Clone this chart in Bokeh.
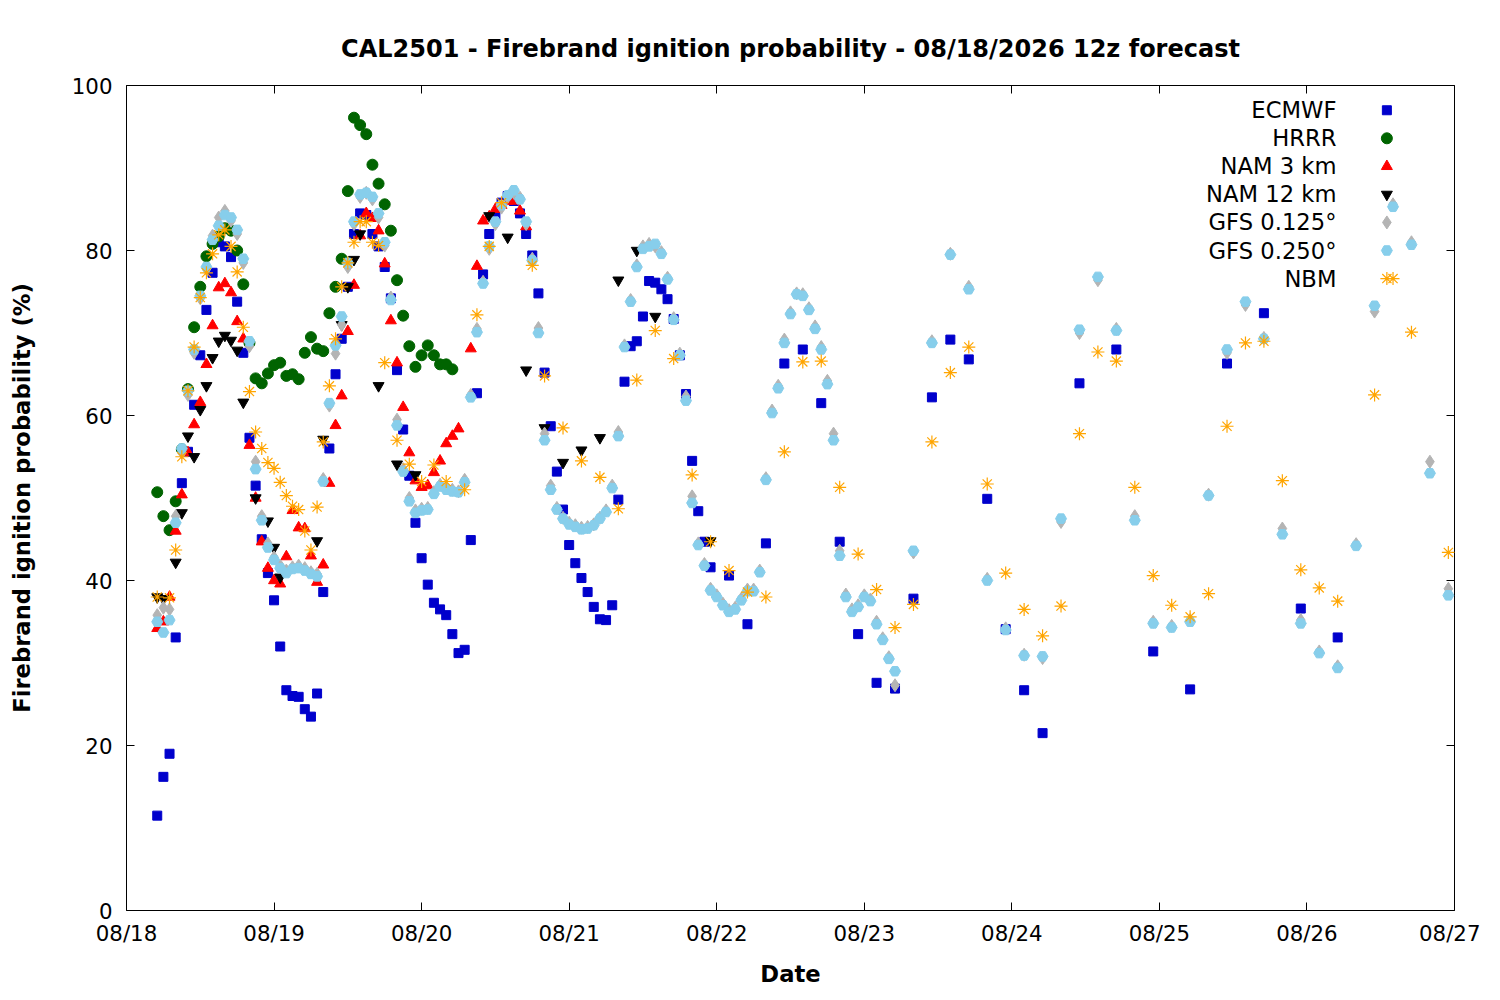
from bokeh.plotting import figure
from bokeh.models import FixedTicker, LinearAxis, Range1d
from bokeh.embed import file_html
from bokeh.resources import INLINE
from bokeh.core.properties import value

day_labels = ["08/18", "08/19", "08/20", "08/21", "08/22", "08/23", "08/24", "08/25", "08/26", "08/27"]

# hours since 08/18 00z
ecmwf_h = list(range(5, 96)) + [98, 101, 104, 107, 110, 113, 116, 119, 122, 125, 128, 131, 134, 137, 140, 143, 146, 149, 155, 161, 167, 173, 179, 185, 191, 197]
ecmwf_v = [11.5, 16.2, 19, 33.1, 51.8, 55.6, 61.3, 67.3, 72.8, 77.3, 81, 80.5, 79.2, 73.8, 67.6, 57.3, 51.5, 45, 40.9, 37.6,
           32, 26.7, 26, 25.9, 24.4, 23.5, 26.3, 38.6, 56, 65, 69.3, 75.6, 82, 84.5, 84.3, 82, 80.5, 78, 74.2, 65.5,
           58.3, 52.7, 47, 42.7, 39.5, 37.3, 36.5, 35.8, 33.5, 31.2, 31.6, 44.9, 62.7, 77.1, 82, 84.2, 85.8, 86.6, 86, 84.5,
           82, 79.4, 74.8, 65.2, 58.7, 53.2, 48.6, 44.3, 42.1, 40.3, 38.6, 36.8, 35.3, 35.2, 37, 49.8, 64.1, 68.4, 69, 72,
           76.3, 76.1, 75.3, 74.1, 71.7, 67.3, 62.6, 54.5, 48.4, 44.7, 41.6,
           40.6, 34.7, 44.5, 66.3, 68, 61.5, 44.7, 33.5, 27.6, 26.9, 37.8, 62.2, 69.2, 66.8, 49.9, 34.1, 26.7, 21.5, 63.9, 68, 31.4, 26.8, 66.3, 72.4, 36.6, 33.1]

hrrr_h = list(range(5, 54))
hrrr_v = [50.7, 47.8, 46.1, 49.6, 55.9, 63.2, 70.7, 75.6, 79.3, 80.8, 81.7, 82.7, 82.4, 80, 75.9, 68.8, 64.5, 63.9, 65.1, 66.1,
          66.4, 64.8, 65, 64.4, 67.6, 69.5, 68.1, 67.8, 72.4, 75.6, 79, 87.2, 96.1, 95.2, 94.1, 90.4, 88.1, 85.6, 82.4, 76.4,
          72.1, 68.4, 65.9, 67.3, 68.5, 67.3, 66.2, 66.2, 65.6]

nam3_h = list(range(5, 55)) + list(range(56, 66))
nam3_v = [34.2, 35, 38, 46, 50.4, 55.5, 58.9, 61.6, 66.2, 70.9, 75.5, 76, 74.9, 71.4, 69.3, 56.4, 50, 44.7, 41.5, 40,
          39.6, 42.9, 48.5, 46.4, 46.3, 43, 39.8, 41.9, 51.8, 58.8, 62.4, 70.2, 75.8, 81.8, 84.5, 83.9, 82.4, 78.4, 71.5, 66.4,
          61, 55.5, 52.1, 51.3, 51.5, 53.1, 54.5, 56.6, 57.5, 58.4,
          68.1, 78.1, 83.6, 84.1, 85, 85.5, 86, 86, 84.8, 82.9]

nam12_h = [5, 6, 8, 9, 10, 11, 12, 13, 14, 15, 16, 17, 18, 19, 21, 23, 24, 25, 31, 32, 35, 36, 37, 38, 41, 44, 47, 59, 62, 65, 68, 71, 74, 77, 80, 83, 86, 95]
nam12_v = [38, 37.8, 42.2, 48.2, 57.5, 55, 60.7, 63.6, 67, 69, 69.7, 69.1, 67.9, 61.6, 50, 47.2, 44, 40.4, 44.8, 57.1,
           71, 75.6, 78.9, 82, 63.6, 54.1, 52.8, 84.2, 81.6, 65.5, 58.5, 54.3, 55.8, 57.3, 76.4, 80, 72, 44.8]

gfs25_h = list(range(5, 126)) + list(range(128, 216, 3))
gfs25_v = [35, 33.7, 35.2, 47, 56, 63, 68, 74.5, 78, 81.3, 83, 84.3, 84, 82.5, 79, 69, 53.5, 47.3, 44, 42.5,
           41.5, 40.9, 41.4, 41.5, 41.2, 40.8, 40.5, 52, 61.5, 68.5, 72, 78.5, 83.5, 86.8, 87, 86.5, 84.5, 81, 74, 58.8,
           53.2, 49.6, 48.2, 48.5, 48.6, 50.5, 51.4, 51, 50.8, 50.7, 51.9, 62.2, 70.1, 76, 80.5, 83.5, 85.5, 86.7, 87.3, 86.2,
           83.5, 78.8, 70, 57, 51, 48.6, 47.5, 46.8, 46.5, 46.2, 46.3, 46.7, 47.5, 48.3, 51.2, 57.5, 68.3, 73.8, 78, 80.2,
           80.5, 80.8, 79.6, 76.5, 71.6, 67.3, 61.8, 49.4, 44.3, 41.8, 38.8, 38, 37, 36.2, 36.5, 37.6, 38.7, 38.7, 41, 52.2,
           60.3, 63.3, 68.8, 72.3, 74.7, 74.5, 72.8, 70.5, 68, 63.8, 57, 43, 38, 36.2, 36.8, 38, 37.5, 34.7, 32.8, 30.5,
           29,
           43.6, 68.8, 79.5, 75.3, 40, 34, 30.9, 30.8, 47.5, 70.4, 76.8, 70.3, 47.3, 34.8, 34.3, 35, 50.3, 68, 73.8, 69.3,
           45.6, 34.8, 31.2, 29.4, 44.2, 73.3, 85.3, 80.7, 53, 38.2]

gfs125_h = gfs25_h
gfs125_v = [35.8, 36.7, 36.5, 47.8, 55.5, 62.5, 67.6, 74.2, 77.8, 81.8, 84, 84.8, 83.6, 82, 78.5, 68.4, 54.4, 47.8, 44.5, 42.8,
            41.8, 41.2, 41.6, 41.8, 41.5, 41, 40.8, 52.3, 61.2, 67.5, 71, 78, 83.2, 86.5, 87, 86.2, 84, 80.6, 74.3, 59.5,
            53.5, 50, 48.5, 48.7, 48.8, 50.7, 51.6, 51.2, 51, 50.8, 52.2, 62.5, 70.5, 76.2, 80.2, 83.2, 85.2, 86.5, 87, 86.4,
            83.2, 79, 70.6, 57.8, 51.5, 48.8, 47.6, 47, 46.7, 46.4, 46.5, 46.8, 47.6, 48.5, 51.5, 58, 68.5, 74, 78.2, 80.5,
            80.8, 80.5, 79.8, 76.7, 71.8, 67.5, 62.3, 50.2, 44.5, 42, 39, 38.2, 37.2, 36.4, 36.7, 37.8, 38.9, 38.9, 41.2, 52.4,
            60.6, 63.6, 69.2, 72.5, 74.8, 74.7, 73, 70.8, 68.3, 64.2, 57.8, 43.6, 38.3, 36.5, 37, 38.2, 37.7, 35, 33, 30.7,
            27.3,
            43.4, 69, 79.6, 75.6, 40.2, 34.2, 31, 30.6, 47.1, 70, 76.4, 70.5, 47.8, 35, 34.5, 35.2, 50.4, 67.6, 73.4, 69.4,
            46.3, 35.2, 31.4, 29.6, 44.4, 72.6, 85.6, 81, 54.4, 39]

nbm_h = [5, 7, 8, 9, 10, 11, 12, 13, 14, 15, 16, 17, 18, 19, 20, 21, 22, 23, 24, 25, 26, 27, 28, 29, 30, 31, 32, 33, 34, 35,
         36, 37, 38, 39, 40, 41, 42, 44, 46, 48, 50, 52, 55, 57, 59, 61, 66, 68, 71, 74, 77, 80, 83, 86, 89, 92, 95, 98, 101, 104,
         107, 110, 113, 116, 119, 122, 125, 128, 131, 134, 137, 140, 143, 146, 149, 152, 155, 158, 161, 164, 167, 170, 173, 176, 179, 182, 185, 188, 191, 194,
         197, 203, 206, 209, 215]
nbm_v = [38, 37.9, 43.7, 55, 63, 68.3, 74.3, 77.3, 79.6, 81.9, 82.5, 80.5, 77.4, 70.7, 62.9, 58, 56, 54.3, 53.6, 51.9,
         50.3, 49, 48.6, 46, 43.7, 48.9, 56.8, 63.6, 69.3, 75.6, 78.5, 81, 83.5, 83.5, 81, 80.6, 66.4, 57, 54.1, 52,
         54, 52, 51, 72.2, 80.5, 85.8, 78.2, 64.8, 58.5, 54.5, 52.5, 48.7, 64.3, 70.3, 66.9, 52.8, 44.7, 41.2, 38.6, 38,
         55.6, 66.5, 66.6, 51.3, 43.2, 38.9, 34.3, 37.1, 56.8, 65.2, 68.3, 51.7, 40.9, 36.5, 33.3, 36.9, 57.8, 67.7, 66.6, 51.3,
         40.6, 37, 35.6, 38.4, 58.7, 68.8, 69, 52.1, 41.3, 39.1, 37.5, 62.5, 76.6, 70.1, 43.4]

FONT = "DejaVu Sans"

p = figure(width=1480, height=992, output_backend="svg", toolbar_location=None,
           x_range=Range1d(0, 216), y_range=Range1d(0, 100),
           title="CAL2501 - Firebrand ignition probability - 08/18/2026 12z forecast",
           min_border_left=126, min_border_right=26, min_border_top=85, min_border_bottom=82)
p.title.align = "center"
p.title.text_font = FONT
p.title.text_font_size = "18pt"
p.title.text_font_style = "bold"
p.title.text_color = "black"
p.title.standoff = 46
p.grid.visible = False
p.outline_line_color = "black"
p.outline_line_width = 1

ticks_x = list(range(0, 217, 24))
p.xaxis.ticker = FixedTicker(ticks=ticks_x)
p.xaxis.major_label_overrides = {t: l for t, l in zip(ticks_x, day_labels)}
p.yaxis.ticker = FixedTicker(ticks=[0, 20, 40, 60, 80, 100])
p.xaxis.axis_label = "Date"
p.yaxis.axis_label = "Firebrand ignition probability (%)"
for ax in [p.xaxis[0], p.yaxis[0]]:
    ax.axis_label_text_font = FONT
    ax.axis_label_text_font_style = "bold"
    ax.axis_label_text_font_size = "17pt"
    ax.axis_label_text_color = "black"
    ax.major_label_text_font = FONT
    ax.major_label_text_font_size = "16pt"
    ax.major_label_text_color = "black"
    ax.major_tick_in = 8
    ax.major_tick_out = 0
    ax.minor_tick_line_color = None
    ax.axis_line_color = None
p.xaxis.major_label_standoff = 10
p.yaxis.major_label_standoff = 14
p.xaxis.axis_label_standoff = 12
p.yaxis.axis_label_standoff = 34

top = LinearAxis(ticker=FixedTicker(ticks=ticks_x), major_label_text_font_size="0pt",
                 major_tick_in=8, major_tick_out=0, minor_tick_line_color=None, axis_line_color=None)
right = LinearAxis(ticker=FixedTicker(ticks=[0, 20, 40, 60, 80, 100]), major_label_text_font_size="0pt",
                   major_tick_in=8, major_tick_out=0, minor_tick_line_color=None, axis_line_color=None)
p.add_layout(top, "above")
p.add_layout(right, "right")

p.scatter(ecmwf_h, ecmwf_v, marker="square", size=9, color="#0000cc")
p.scatter(hrrr_h, hrrr_v, marker="circle", size=11, color="#006400")
p.scatter(nam3_h, nam3_v, marker="triangle", size=11, color="#ff0000")
p.scatter(nam12_h, nam12_v, marker="inverted_triangle", size=11, color="black")
p.scatter(gfs125_h, gfs125_v, marker="diamond", size=13, color="#b4b4b4")
p.scatter(gfs25_h, gfs25_v, marker="hex", size=11, color="#87ceeb")
p.scatter(nbm_h, nbm_v, marker="asterisk", size=13, line_color="orange", line_width=1.2)

# legend (gnuplot style: right-aligned text, marker to the right)
leg_names = ["ECMWF", "HRRR", "NAM 3 km", "NAM 12 km", "GFS 0.125°", "GFS 0.250°", "NBM"]
leg_y = [97, 93.6, 90.2, 86.8, 83.4, 80, 76.6]
leg_tx = [196.8] * 7
leg_mx = [205] * 7
p.text(leg_tx, leg_y, text=leg_names, text_align="right", text_baseline="middle",
       text_font=value(FONT), text_font_size="17pt", text_color="black")
p.scatter(leg_mx[0:1], leg_y[0:1], marker="square", size=9, color="#0000cc")
p.scatter(leg_mx[1:2], leg_y[1:2], marker="circle", size=11, color="#006400")
p.scatter(leg_mx[2:3], leg_y[2:3], marker="triangle", size=11, color="#ff0000")
p.scatter(leg_mx[3:4], leg_y[3:4], marker="inverted_triangle", size=11, color="black")
p.scatter(leg_mx[4:5], leg_y[4:5], marker="diamond", size=13, color="#b4b4b4")
p.scatter(leg_mx[5:6], leg_y[5:6], marker="hex", size=11, color="#87ceeb")
p.scatter(leg_mx[6:7], leg_y[6:7], marker="asterisk", size=13, line_color="orange", line_width=1.2)

open("out.html", "w").write(file_html(p, INLINE))
